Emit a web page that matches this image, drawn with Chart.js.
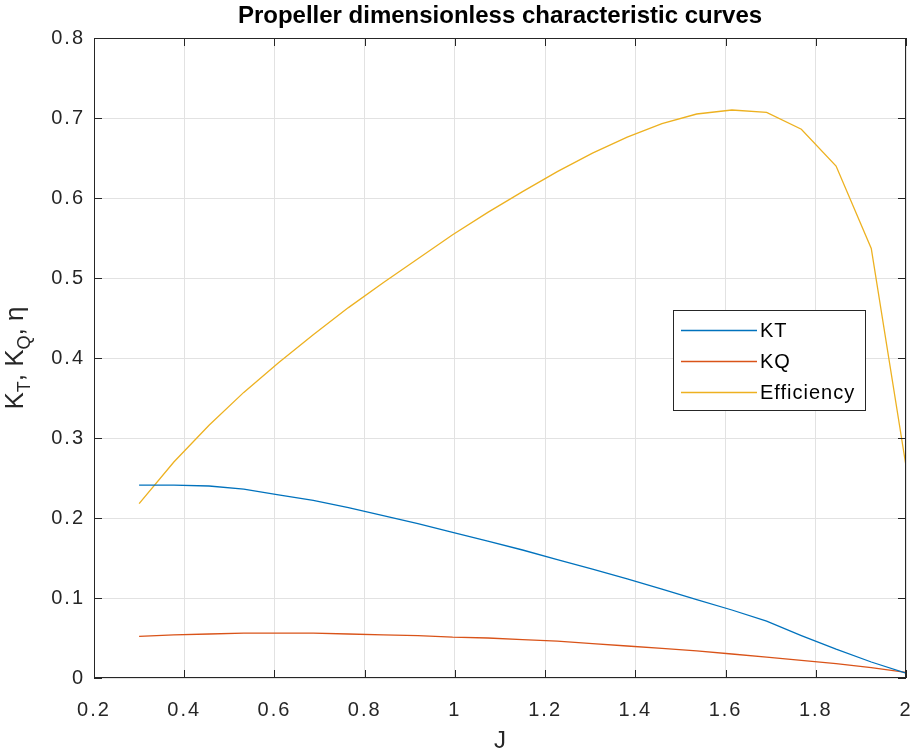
<!DOCTYPE html>
<html>
<head>
<meta charset="utf-8">
<script src="https://cdn.jsdelivr.net/npm/chart.js@4.4.1/dist/chart.umd.min.js"></script>
<style>
  html, body { margin: 0; padding: 0; background: #fff; }
  #wrap { width: 910px; height: 756px; position: relative; }
</style>
</head>
<body>
<div id="wrap"><canvas id="myChart"></canvas></div>
<script>
// advance ratio J
var J = [0.300, 0.377, 0.455, 0.532, 0.609, 0.686, 0.764, 0.841, 0.918, 0.995, 1.073, 1.150,
         1.227, 1.305, 1.382, 1.459, 1.536, 1.614, 1.691, 1.768, 1.845, 1.923, 2.000];
var KT = [0.241, 0.241, 0.240, 0.236, 0.229, 0.222, 0.213, 0.203, 0.193, 0.182, 0.171, 0.160,
          0.148, 0.136, 0.124, 0.111, 0.098, 0.085, 0.071, 0.053, 0.036, 0.020, 0.006];
var KQ = [0.052, 0.054, 0.055, 0.056, 0.056, 0.056, 0.055, 0.054, 0.053, 0.051, 0.050, 0.048,
          0.046, 0.043, 0.040, 0.037, 0.034, 0.030, 0.026, 0.022, 0.018, 0.013, 0.007];
var efficiency = [0.218, 0.270, 0.316, 0.357, 0.394, 0.429, 0.463, 0.494, 0.524, 0.554, 0.582, 0.608,
                  0.633, 0.656, 0.676, 0.693, 0.705, 0.710, 0.707, 0.686, 0.640, 0.537, 0.265];
var seriesNames = ['KT', 'KQ', 'Efficiency'];
var seriesColors = ['#0072BD', '#D95319', '#EDB120'];
var xTicks = [0.2, 0.4, 0.6, 0.8, 1, 1.2, 1.4, 1.6, 1.8, 2];
var yTicks = [0, 0.1, 0.2, 0.3, 0.4, 0.5, 0.6, 0.7, 0.8];

function pts(ys) {
  return J.map(function(x, i) { return {x: x, y: ys[i]}; });
}

var axisColor = '#262626';
var fontFam = '"Liberation Sans", Arial, Helvetica, sans-serif';

// wider letter spacing for the tick labels (matlab look)
var spacing = {
  id: 'spacing',
  beforeDraw: function(chart) { chart.ctx.letterSpacing = '2px'; }
};

// frame, ticks, titles and the legend box
var decor = {
  id: 'decor',
  afterDraw: function(chart) {
    var c = chart.ctx, a = chart.chartArea;
    var xs = chart.scales.x, ys = chart.scales.y;
    c.save();
    c.letterSpacing = '0px';
    c.strokeStyle = axisColor;
    c.lineWidth = 1;
    c.strokeRect(a.left + 0.5, a.top + 0.5, a.right - a.left - 1, a.bottom - a.top - 1);
    c.beginPath();
    xTicks.forEach(function(t) {
      var px = Math.round(xs.getPixelForValue(t)) + 0.5;
      c.moveTo(px, a.bottom); c.lineTo(px, a.bottom - 8);
      c.moveTo(px, a.top); c.lineTo(px, a.top + 8);
    });
    yTicks.forEach(function(t) {
      var py = Math.round(ys.getPixelForValue(t)) + 0.5;
      c.moveTo(a.left, py); c.lineTo(a.left + 8, py);
      c.moveTo(a.right, py); c.lineTo(a.right - 8, py);
    });
    c.stroke();

    // title
    c.fillStyle = '#000';
    c.font = 'bold 24px ' + fontFam;
    c.textAlign = 'center';
    c.textBaseline = 'middle';
    c.fillText('Propeller dimensionless characteristic curves', (a.left + a.right) / 2, 16);

    // x label
    c.fillStyle = axisColor;
    c.font = '24px ' + fontFam;
    c.fillText('J', (a.left + a.right) / 2, 741);

    // y label with subscripts
    c.save();
    c.translate(23, (a.top + a.bottom) / 2);
    c.rotate(-Math.PI / 2);
    var parts = [['K', 0], ['T', 1], [', K', 0], ['Q', 1], [', ', 0], ['\u03b7', 0]];
    var total = 0;
    parts.forEach(function(p) {
      c.font = (p[1] ? '18px ' : '26px ') + fontFam;
      total += c.measureText(p[0]).width;
    });
    var cx = -total / 2;
    c.textAlign = 'left';
    c.textBaseline = 'alphabetic';
    parts.forEach(function(p) {
      c.font = (p[1] ? '18px ' : '26px ') + fontFam;
      c.fillText(p[0], cx, p[1] ? 7 : 0);
      cx += c.measureText(p[0]).width;
    });
    c.restore();

    // legend
    var lx = 673, ly = 310, lw = 192, lh = 100;
    c.fillStyle = '#fff';
    c.fillRect(lx, ly, lw, lh);
    c.strokeStyle = axisColor;
    c.strokeRect(lx + 0.5, ly + 0.5, lw, lh);
    c.font = '20px ' + fontFam;
    c.letterSpacing = '1px';
    c.textAlign = 'left';
    c.textBaseline = 'middle';
    chart.data.datasets.forEach(function(ds, i) {
      var yy = ly + 20 + i * 31;
      c.strokeStyle = ds.borderColor;
      c.lineWidth = 1.3;
      c.beginPath();
      c.moveTo(lx + 8, yy + 0.5); c.lineTo(lx + 84, yy + 0.5);
      c.stroke();
      c.fillStyle = '#000';
      c.fillText(ds.label, lx + 87, yy + 1);
    });
    c.restore();
  }
};

var ctx = document.getElementById('myChart');
var myChart = new Chart(ctx, {
  type: 'line',
  data: {
    datasets: [
      {label: seriesNames[0], data: pts(KT), borderColor: seriesColors[0]},
      {label: seriesNames[1], data: pts(KQ), borderColor: seriesColors[1]},
      {label: seriesNames[2], data: pts(efficiency), borderColor: seriesColors[2]}
    ]
  },
  options: {
    responsive: true,
    maintainAspectRatio: false,
    animation: false,
    devicePixelRatio: 1,
    layout: {padding: {top: 38, right: 4, left: 0, bottom: 0}},
    elements: {
      point: {radius: 0},
      line: {borderWidth: 1.3, tension: 0, fill: false}
    },
    plugins: {legend: {display: false}, title: {display: false}, tooltip: {enabled: false}},
    scales: {
      x: {
        type: 'linear', min: 0.2, max: 2.0,
        afterFit: function(s) { s.height = 78; s.paddingLeft = 0; s.paddingRight = 0; },
        afterBuildTicks: function(s) { s.ticks = xTicks.map(function(v) { return {value: v}; }); },
        grid: {color: '#e2e2e2', drawTicks: false},
        border: {display: false},
        ticks: {
          padding: 20, color: axisColor, maxRotation: 0,
          font: {family: fontFam, size: 20},
          callback: function(v) { return String(+v.toFixed(1)); }
        }
      },
      y: {
        type: 'linear', min: 0, max: 0.8,
        afterFit: function(s) { s.width = 94; s.paddingTop = 0; s.paddingBottom = 0; },
        afterBuildTicks: function(s) { s.ticks = yTicks.map(function(v) { return {value: v}; }); },
        grid: {color: '#e2e2e2', drawTicks: false},
        border: {display: false},
        ticks: {
          padding: 9, color: axisColor,
          font: {family: fontFam, size: 20},
          callback: function(v) { return String(+v.toFixed(1)); }
        }
      }
    }
  },
  plugins: [spacing, decor]
});
</script>
</body>
</html>
